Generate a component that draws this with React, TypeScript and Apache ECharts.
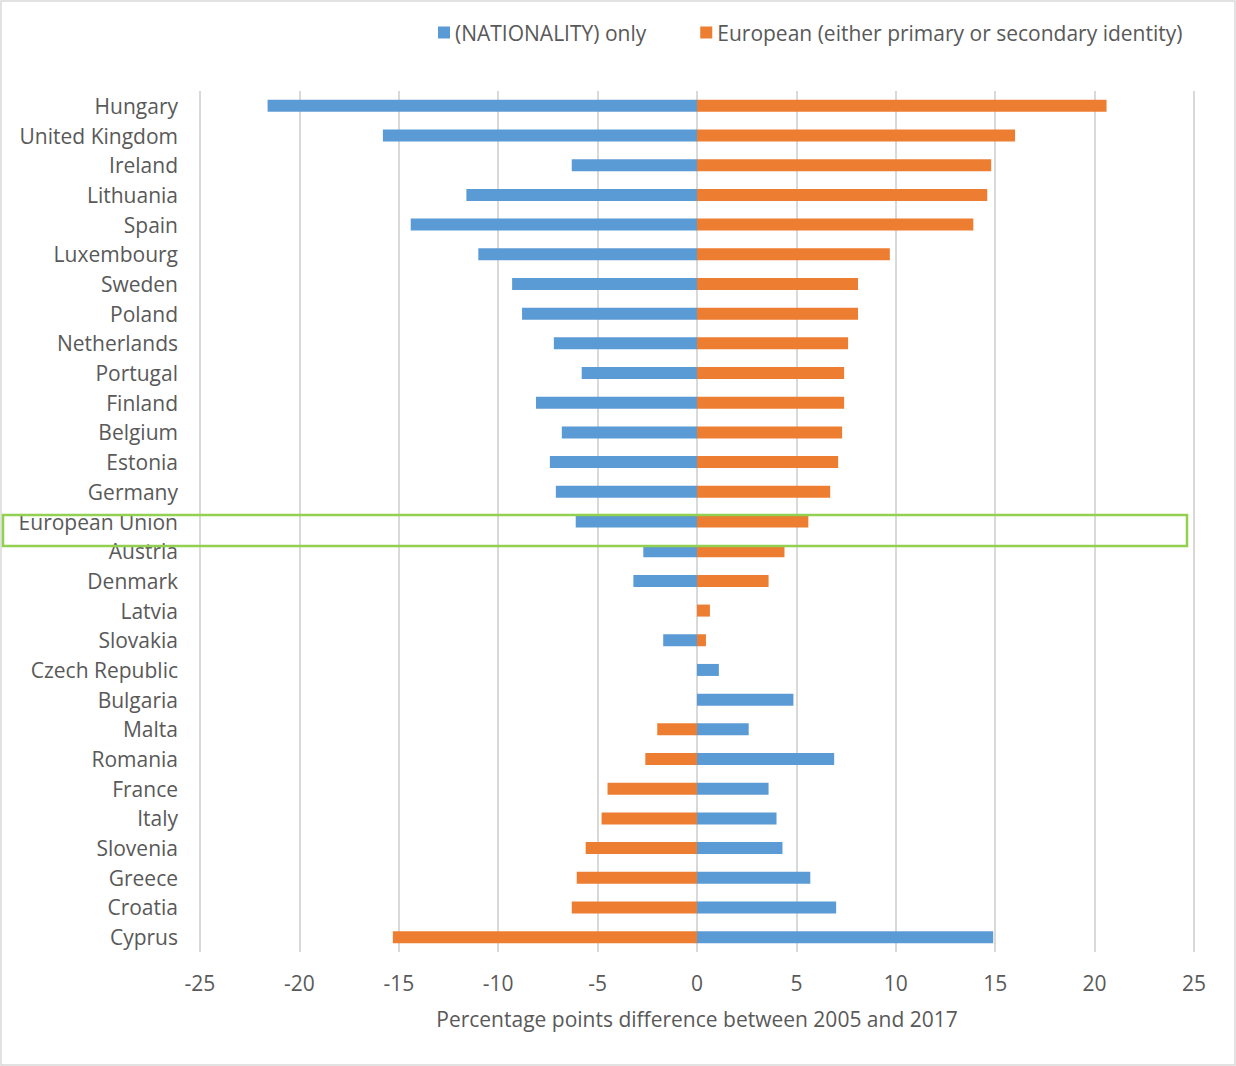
import React, { useEffect, useRef } from "react";
import * as echarts from "echarts";

const categories = [
  "Hungary", "United Kingdom", "Ireland", "Lithuania", "Spain", "Luxembourg",
  "Sweden", "Poland", "Netherlands", "Portugal", "Finland", "Belgium", "Estonia",
  "Germany", "European Union", "Austria", "Denmark", "Latvia", "Slovakia",
  "Czech Republic", "Bulgaria", "Malta", "Romania", "France", "Italy",
  "Slovenia", "Greece", "Croatia", "Cyprus",
];

const nationalityOnly = [
  -21.6, -15.8, -6.3, -11.6, -14.4, -11.0, -9.3, -8.8, -7.2, -5.8, -8.1, -6.8,
  -7.4, -7.1, -6.1, -2.7, -3.2, 0, -1.7, 1.1, 4.85, 2.6, 6.9, 3.6, 4.0, 4.3,
  5.7, 7.0, 14.9,
];

const european = [
  20.6, 16.0, 14.8, 14.6, 13.9, 9.7, 8.1, 8.1, 7.6, 7.4, 7.4, 7.3, 7.1, 6.7,
  5.6, 4.4, 3.6, 0.65, 0.45, 0, 0, -2.0, -2.6, -4.5, -4.8, -5.6, -6.05, -6.3,
  -15.3,
];

const xTicks = { min: -25, max: 25, interval: 5 };

const seriesNames = ["(NATIONALITY) only", "European (either primary or secondary identity)"];
const colors = ["#5B9BD5", "#ED7D31"];

const FONT = "'Open Sans', 'Noto Sans', sans-serif";

export default function App() {
  const ref = useRef<HTMLDivElement>(null);
  useEffect(() => {
    if (!ref.current) return;
    const chart = echarts.init(ref.current, null, { renderer: "svg" });
    chart.setOption({
      animation: false,
      backgroundColor: "#ffffff",
      textStyle: { fontFamily: FONT },
      color: colors,
      legend: {
        data: seriesNames,
        left: 433,
        top: 17,
        itemWidth: 12,
        itemHeight: 12,
        itemGap: 54,
        icon: "rect",
        textStyle: { fontSize: 21, color: "#595959", fontFamily: FONT },
      },
      grid: { left: 200, right: 42, top: 91, bottom: 114, containLabel: false },
      xAxis: {
        type: "value",
        min: xTicks.min,
        max: xTicks.max,
        interval: xTicks.interval,
        axisLine: { show: false },
        axisTick: { show: false },
        splitLine: { show: true, lineStyle: { color: "#d9d9d9", width: 2 } },
        axisLabel: { fontSize: 21, color: "#595959", margin: 20, fontFamily: FONT },
        name: "Percentage points difference between 2005 and 2017",
        nameLocation: "middle",
        nameGap: 56,
        nameTextStyle: { fontSize: 21, color: "#595959", fontFamily: FONT },
      },
      yAxis: {
        type: "category",
        data: categories,
        inverse: true,
        axisLine: { show: false },
        axisTick: { show: false },
        axisLabel: { fontSize: 21, color: "#595959", margin: 22, fontFamily: FONT },
      },
      series: [
        {
          name: seriesNames[0],
          type: "bar",
          data: nationalityOnly,
          barWidth: 12,
          barGap: "-100%",
          itemStyle: { color: colors[0] },
        },
        {
          name: seriesNames[1],
          type: "bar",
          data: european,
          barWidth: 12,
          barGap: "-100%",
          itemStyle: { color: colors[1] },
        },
      ],
      graphic: [
        {
          type: "rect",
          shape: { x: 1, y: 1, width: 1234, height: 1064 },
          style: { fill: "none", stroke: "#d9d9d9", lineWidth: 1.5 },
          silent: true,
        },
        {
          type: "rect",
          shape: { x: 3, y: 515, width: 1184, height: 31 },
          style: { fill: "none", stroke: "#92D050", lineWidth: 2.5 },
          z: 100,
          silent: true,
        },
      ],
    });
    return () => chart.dispose();
  }, []);
  return (
    <div
      ref={ref}
      style={{ position: "absolute", left: 0, top: 0, width: 1236, height: 1066 }}
    />
  );
}
